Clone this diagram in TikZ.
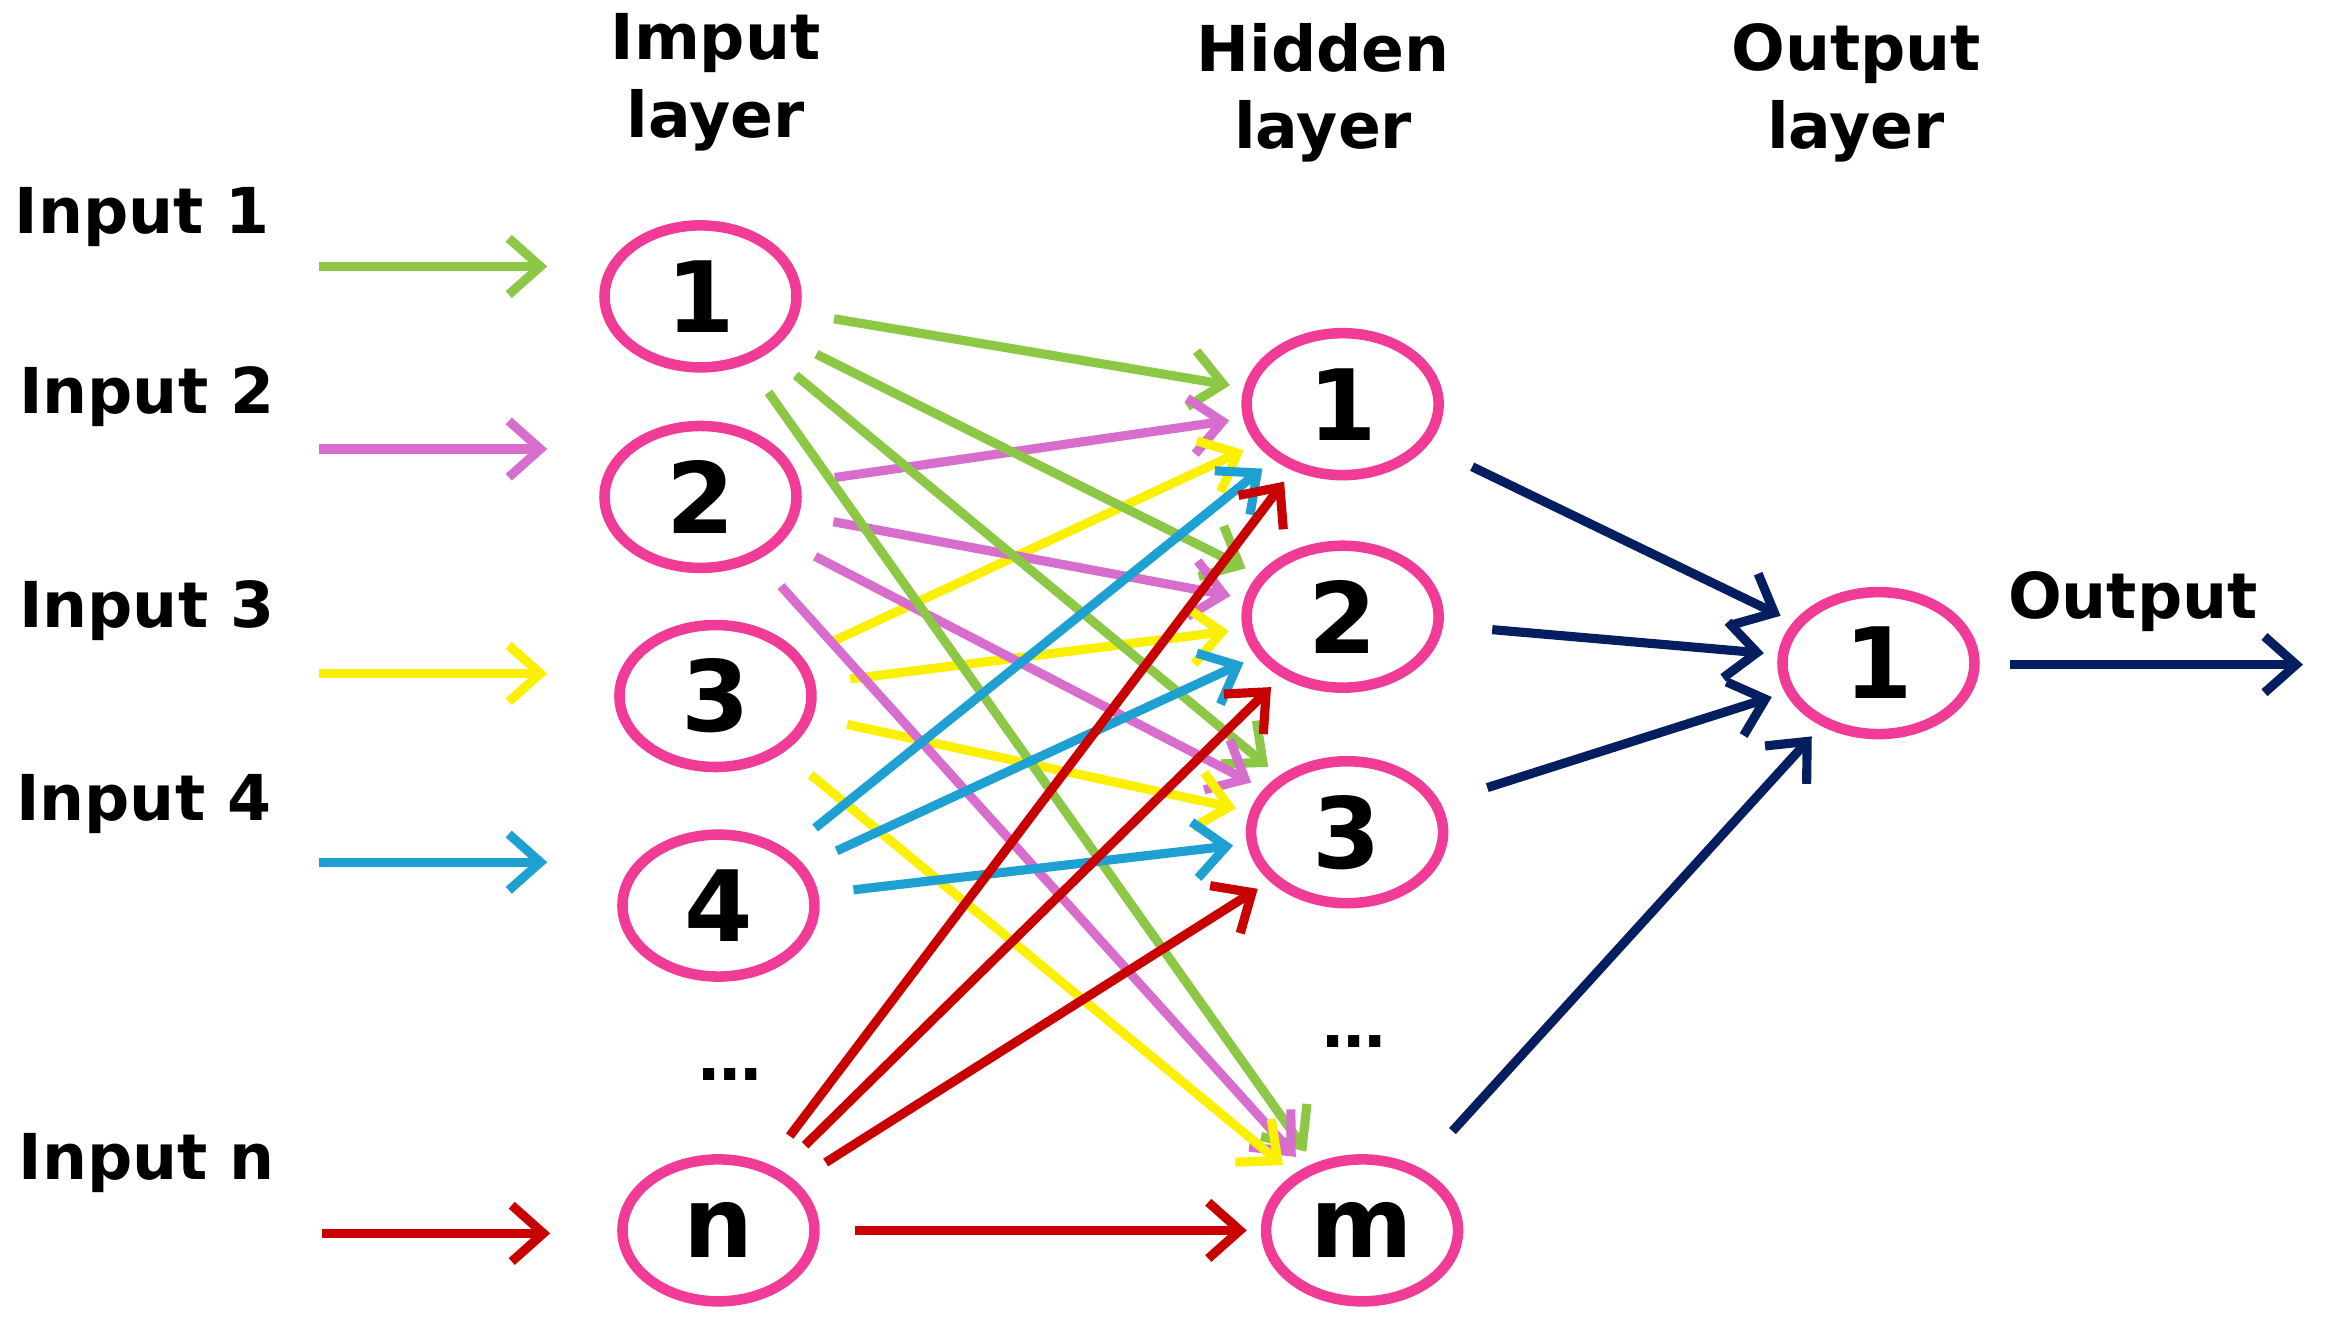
\documentclass[tikz,border=0pt]{standalone}
\usepackage{fontspec}
\setmainfont{DejaVu Sans}
\usetikzlibrary{arrows.meta,shapes.geometric}
\definecolor{cg}{RGB}{140,200,70}
\definecolor{cp}{RGB}{215,110,205}
\definecolor{cy}{RGB}{250,240,0}
\definecolor{cb}{RGB}{30,160,210}
\definecolor{cr}{RGB}{200,0,0}
\definecolor{cn}{RGB}{5,30,95}
\definecolor{ce}{RGB}{240,60,150}
\begin{document}
\begin{tikzpicture}[x=0.01497cm,y=-0.01497cm,
 neuron/.style={ellipse,draw=ce,line width=3pt,minimum width=1.92cm,minimum height=1.42cm,inner sep=0pt,font=\bfseries\fontsize{28}{30}\selectfont},
 lbl/.style={font=\bfseries\fontsize{18}{22}\selectfont,align=center},
 arr/.style={line width=2.6pt,-{Straight Barb[length=9pt,width=16pt]},shorten <=10pt,shorten >=4pt}]
\useasboundingbox (0,0) rectangle (1560,885);
\node[neuron] (i1) at (468,198) {1};
\node[neuron] (i2) at (468,332) {2};
\node[neuron] (i3) at (478,465) {3};
\node[neuron] (i4) at (480,605) {4};
\node[neuron] (in) at (480,822) {n};
\node[neuron] (h1) at (897,270) {1};
\node[neuron] (h2) at (897,412) {2};
\node[neuron] (h3) at (900,556) {3};
\node[neuron] (hm) at (910,822) {m};
\node[neuron] (o1) at (1255,443) {1};
\node[lbl] (d1) at (488,718) {\dots};
\node[lbl] (d2) at (905,696) {\dots};
\node[lbl] (t1) at (478,55) {Imput\\layer};
\node[lbl] (t2) at (884,62) {Hidden\\layer};
\node[lbl] (t3) at (1240,62) {Output\\layer};
\node[lbl] (l1) at (95,145) {Input 1};
\node[lbl] (l2) at (98,265) {Input 2};
\node[lbl] (l3) at (98,408) {Input 3};
\node[lbl] (l4) at (96,537) {Input 4};
\node[lbl] (ln) at (98,777) {Input n};
\node[lbl] (lo) at (1425,402) {Output};
\coordinate (s1) at (213,178); \coordinate (s2) at (213,300);
\coordinate (s3) at (213,450); \coordinate (s4) at (213,576);
\coordinate (sn) at (215,824);
\coordinate (e1) at (375,178); \coordinate (e2) at (375,300);
\coordinate (e3) at (375,450); \coordinate (e4) at (375,576);
\coordinate (en) at (377,824);
\coordinate (os) at (1343,444); \coordinate (oe) at (1548,444);
\draw[arr,cg,shorten <=0pt] (s1)--(e1);
\draw[arr,cp,shorten <=0pt] (s2)--(e2);
\draw[arr,cy,shorten <=0pt] (s3)--(e3);
\draw[arr,cb,shorten <=0pt] (s4)--(e4);
\draw[arr,cr,shorten <=0pt] (sn)--(en);
\foreach \h in {h1,h2,h3,hm}{
 \draw[arr,cg] (i1)--(\h);
 \draw[arr,cp] (i2)--(\h);
 \draw[arr,cy] (i3)--(\h);
}
\foreach \h in {h1,h2,h3}{
 \draw[arr,cb] (i4)--(\h);
}
\foreach \h in {h1,h2,h3,hm}{
 \draw[arr,cr] (in)--(\h);
}
\foreach \h in {h1,h2,h3,hm}{
 \draw[arr,cn,shorten <=14pt] (\h)--(o1);
}
\draw[arr,cn,shorten <=0pt] (os)--(oe);
\end{tikzpicture}
\end{document}
